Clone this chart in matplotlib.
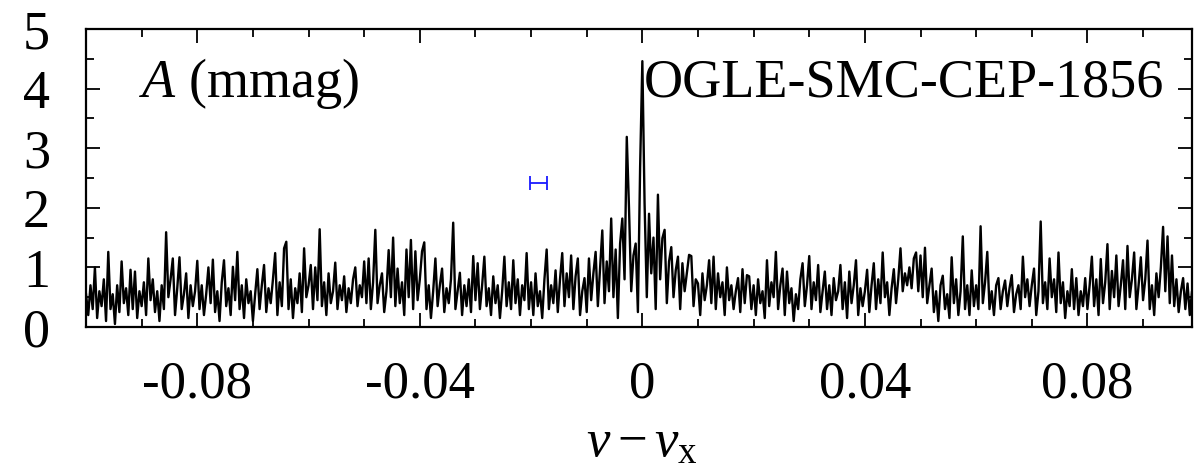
import numpy as np
import matplotlib
matplotlib.use("Agg")
import matplotlib.pyplot as plt
from matplotlib.ticker import MultipleLocator, FixedLocator, FuncFormatter

plt.rcParams['font.family'] = ['Liberation Serif', 'DejaVu Serif']
plt.rcParams['mathtext.fontset'] = 'custom'
plt.rcParams['mathtext.rm'] = 'Liberation Serif'
plt.rcParams['mathtext.it'] = 'Liberation Serif:italic'

# frequency grid of the amplitude spectrum (nu - nu_x)
freq_start = -0.1
freq_step = 0.0004

# amplitude (mmag), in blocks of 0.02 in frequency
amp_m100_m080 = [0.55, 0.2, 0.7, 0.3, 1.0, 0.15, 0.6, 0.35, 0.8, 0.1,
                 1.26, 0.3, 0.55, 0.05, 0.7, 0.25, 1.10, 0.4, 0.65, 0.2,
                 0.96, 0.3, 0.93, 0.15, 0.6, 0.35, 0.75, 0.2, 1.15, 0.45,
                 0.8, 0.25, 0.6, 0.1, 0.7, 0.3, 1.59, 0.5, 0.8, 1.15,
                 0.2, 0.65, 1.17, 0.3, 0.55, 0.9, 0.15, 0.7, 0.35, 0.6]
amp_m080_m060 = [1.11, 0.3, 0.7, 0.2, 0.55, 1.0, 0.4, 1.13, 0.25, 0.6,
                 0.1, 0.75, 1.12, 0.35, 0.65, 0.2, 1.01, 0.45, 1.26, 0.3,
                 0.7, 0.15, 0.8, 0.4, 0.6, 0.1, 0.55, 0.97, 0.3, 0.7,
                 1.04, 0.25, 0.65, 0.4, 0.8, 1.24, 0.2, 0.75, 0.35, 1.32,
                 1.43, 0.3, 0.8, 0.15, 0.65, 0.4, 0.9, 0.25, 1.32, 0.5]
amp_m060_m040 = [0.7, 1.04, 0.3, 1.0, 0.45, 1.64, 0.35, 0.75, 0.2, 0.9,
                 0.4, 0.6, 1.08, 0.3, 0.7, 0.45, 0.85, 0.25, 0.65, 0.4,
                 0.8, 1.0, 0.35, 0.7, 0.5, 1.1, 0.4, 1.15, 0.3, 0.75,
                 1.63, 0.4, 0.7, 0.9, 0.25, 0.6, 1.29, 0.5, 1.5, 0.35,
                 0.98, 0.4, 0.75, 0.2, 1.3, 0.5, 1.46, 0.3, 1.27, 0.45]
amp_m040_m020 = [0.8, 1.27, 1.42, 0.3, 0.7, 0.15, 0.6, 1.15, 0.35, 0.7,
                 0.98, 0.25, 0.65, 0.4, 0.8, 1.75, 0.3, 0.6, 0.91, 0.2,
                 0.7, 0.35, 0.8, 0.25, 1.19, 0.45, 1.07, 0.3, 0.7, 1.18,
                 0.35, 0.65, 0.2, 0.85, 0.4, 0.7, 0.15, 0.6, 1.18, 0.35,
                 0.75, 0.3, 1.12, 0.4, 0.8, 0.2, 0.7, 0.45, 1.24, 0.3]
amp_m020_p000 = [0.75, 0.2, 0.9, 0.35, 0.6, 0.15, 0.8, 1.3, 0.3, 0.7,
                 0.4, 0.95, 0.25, 0.8, 1.24, 0.35, 0.9, 0.5, 1.2, 0.3,
                 0.85, 1.15, 0.2, 0.6, 0.82, 0.25, 1.15, 0.45, 0.9, 1.26,
                 0.35, 1.0, 1.62, 0.4, 1.1, 0.6, 1.82, 0.5, 1.3, 0.15,
                 1.4, 1.82, 0.8, 3.19, 2.0, 0.6, 1.2, 1.4, 0.25, 2.69]
amp_p000_p020 = [4.46, 2.07, 0.5, 1.9, 0.9, 1.5, 0.3, 2.22, 0.8, 1.49,
                 1.63, 0.4, 1.1, 1.34, 0.5, 0.95, 1.18, 0.3, 1.07, 0.6,
                 0.9, 1.21, 1.19, 0.35, 0.8, 0.73, 0.2, 0.9, 0.45, 0.7,
                 1.12, 0.4, 1.18, 0.3, 0.9, 0.5, 0.75, 0.2, 1.0, 0.45,
                 0.7, 0.3, 0.6, 0.82, 0.25, 0.97, 0.4, 0.87, 0.85, 0.3]
amp_p020_p040 = [0.7, 0.2, 0.8, 0.4, 0.6, 0.15, 1.12, 0.35, 0.75, 0.5,
                 1.26, 0.3, 0.7, 0.98, 0.2, 0.93, 0.4, 0.65, 0.1, 0.55,
                 0.3, 0.8, 1.07, 0.35, 0.7, 1.19, 0.3, 0.75, 0.45, 1.04,
                 0.25, 0.6, 0.93, 0.3, 0.7, 0.2, 0.82, 0.45, 0.6, 1.04,
                 0.3, 0.75, 0.15, 0.93, 0.4, 0.7, 1.12, 0.2, 0.65, 0.35]
amp_p040_p060 = [0.6, 0.96, 0.25, 0.7, 1.07, 0.3, 0.8, 0.4, 1.25, 0.5,
                 0.75, 0.2, 0.65, 0.97, 0.4, 0.8, 1.32, 0.6, 0.9, 0.7,
                 1.0, 0.65, 1.15, 1.25, 0.6, 1.2, 0.5, 1.33, 0.4, 0.7,
                 0.98, 0.25, 0.6, 0.1, 0.7, 0.86, 0.3, 0.55, 0.15, 1.17,
                 0.4, 0.8, 0.2, 0.6, 1.52, 0.3, 0.7, 0.2, 0.95, 0.35]
amp_p060_p080 = [0.7, 0.3, 1.69, 0.4, 0.75, 1.26, 0.3, 0.6, 0.2, 0.7,
                 0.82, 0.3, 0.6, 0.78, 0.35, 0.65, 0.87, 0.25, 0.55, 0.7,
                 0.3, 1.18, 0.5, 0.8, 0.35, 0.7, 0.98, 0.2, 0.6, 1.77,
                 0.4, 0.75, 0.3, 1.15, 0.5, 0.8, 0.25, 1.25, 0.4, 0.75,
                 0.15, 0.6, 0.35, 0.97, 0.3, 0.82, 0.2, 0.6, 0.35, 0.82]
amp_p080_p100 = [0.3, 0.7, 1.18, 0.35, 0.8, 0.2, 1.14, 0.4, 0.75, 1.39,
                 0.3, 0.94, 0.5, 1.2, 0.35, 0.7, 1.12, 0.3, 1.36, 0.5,
                 0.8, 1.25, 0.3, 0.7, 1.17, 0.45, 0.8, 1.45, 0.3, 0.7,
                 0.2, 0.9, 0.5, 1.0, 1.68, 0.6, 1.52, 0.4, 1.2, 0.35,
                 0.8, 0.25, 0.6, 0.82, 0.3, 0.73, 0.2, 0.6, 0.35, 0.7]

# error bar (frequency resolution marker)
err_x = -0.0187
err_y = 2.42
err_dx = 0.0015

x_ticks = [-0.08, -0.04, 0.0, 0.04, 0.08]
y_ticks = [0, 1, 2, 3, 4, 5]
star_name = "OGLE-SMC-CEP-1856"

amp = np.array(amp_m100_m080 + amp_m080_m060 + amp_m060_m040 + amp_m040_m020 +
               amp_m020_p000 + amp_p000_p020 + amp_p020_p040 + amp_p040_p060 +
               amp_p060_p080 + amp_p080_p100)
freq = freq_start + freq_step * np.arange(len(amp))

fig = plt.figure(figsize=(11.98, 4.69), dpi=100)
ax = fig.add_axes([0.0718, 0.3028, 0.9232, 0.6354])

ax.plot(freq, amp, color='black', lw=1.7)
ax.errorbar([err_x], [err_y], xerr=[err_dx], fmt='none', ecolor='#1a1aff',
            elinewidth=1.3, capsize=5, capthick=1.3)

ax.set_xlim(-0.1, 0.0988)
ax.set_ylim(0, 5)

ax.xaxis.set_major_locator(FixedLocator(x_ticks))
ax.xaxis.set_minor_locator(MultipleLocator(0.01))
ax.yaxis.set_major_locator(FixedLocator(y_ticks))
ax.yaxis.set_minor_locator(MultipleLocator(0.5))

def xfmt(v, pos):
    if abs(v) < 1e-9:
        return "0"
    return "%.2f" % v
ax.xaxis.set_major_formatter(FuncFormatter(xfmt))
ax.yaxis.set_major_formatter(FuncFormatter(lambda v, p: "%d" % v))

ax.tick_params(which='both', direction='in', top=True, right=True, width=1.3)
ax.tick_params(which='major', length=10)
ax.tick_params(which='minor', length=6)
ax.tick_params(axis='y', which='major', labelsize=39, pad=26)
ax.tick_params(axis='x', which='major', labelsize=38, pad=24)
for s in ax.spines.values():
    s.set_linewidth(1.6)

ax.set_xlabel(r"$\nu - \nu_{\mathrm{x}}$", fontsize=38)
ax.xaxis.set_label_coords(0.503, -0.312)

ax.text(-0.0905, 3.86, r"$A$ (mmag)", fontsize=39, va='baseline', ha='left')
ax.text(0.0003, 3.86, star_name, fontsize=39, va='baseline', ha='left')

fig.savefig("out.png", dpi=100)
